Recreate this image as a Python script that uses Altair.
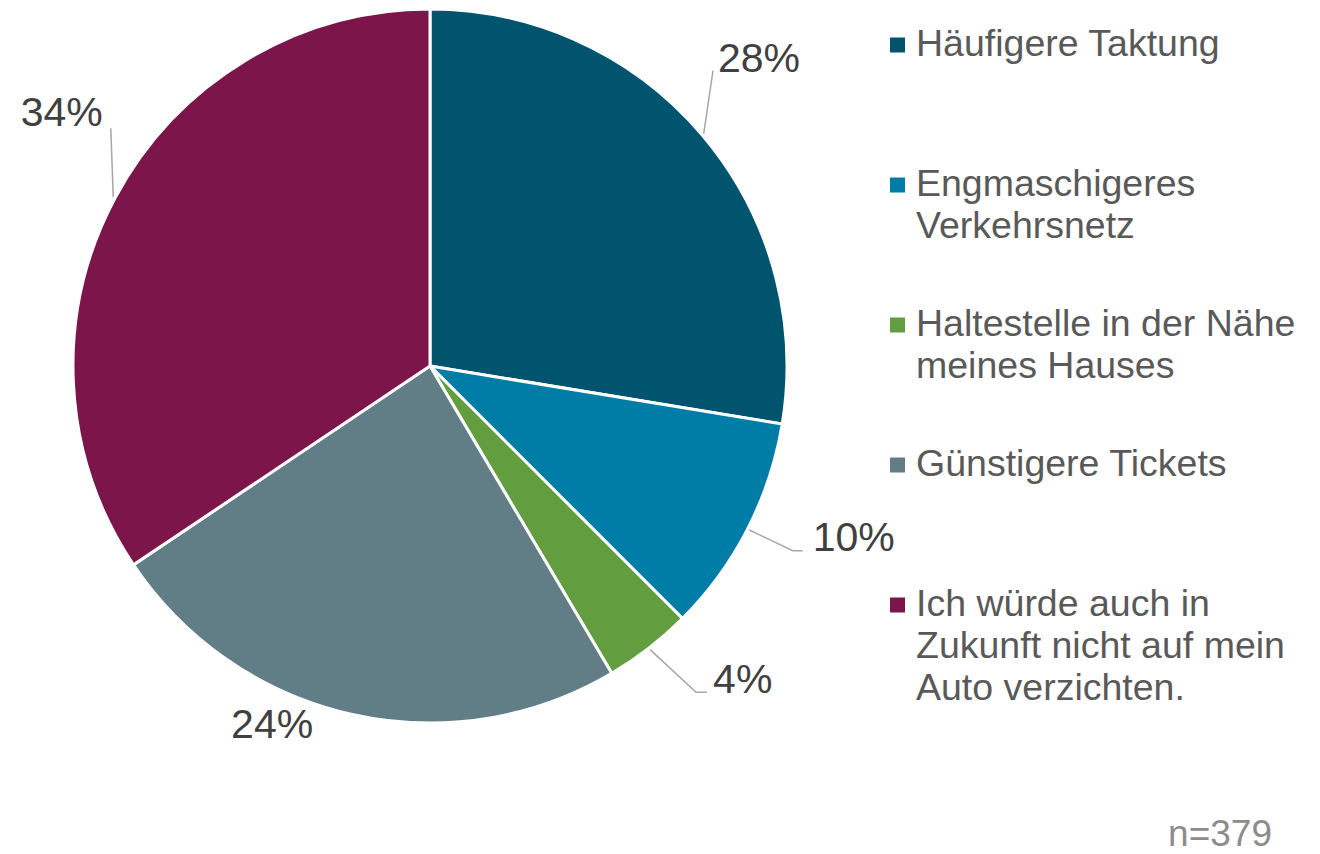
import math
import altair as alt
import pandas as pd

# ---- data ----
categories = [
    "Häufigere Taktung",
    "Engmaschigeres\nVerkehrsnetz",
    "Haltestelle in der Nähe\nmeines Hauses",
    "Günstigere Tickets",
    "Ich würde auch in\nZukunft nicht auf mein\nAuto verzichten.",
]
values = [27.6, 9.9, 4.0, 24.1, 34.4]   # shares in %
colors = ["#00546E", "#007DA7", "#629E3F", "#617E86", "#7B154A"]
note = "n=379"

# ---- layout / style ----
W, H = 1304, 846
CX, CY = 422, 358          # pie centre in view coordinates
R = 357                     # pie radius
FONT = "Liberation Sans"
# per-label leader style: angle nudge (deg), elbow radius, tail length, text dx, dy, align, line?
LABEL_STYLE = [
    dict(da=-5.9, re=409, tail=0, dx=5, dy=1, align="left", line=True),
    dict(da=-0.2, re=407, tail=10, dx=10, dy=0, align="left", line=True),
    dict(da=-1.4, re=421, tail=11, dx=6, dy=1, align="left", line=True),
    dict(da=11.1, re=390, tail=0, dx=0, dy=15, align="center", line=False),
    dict(da=8.6, re=398, tail=0, dx=-8, dy=-2, align="right", line=True),
]
LEG_X, LEG_Y0, LEG_STEP = 908, 48, 140


def polar(angle_deg, r):
    a = math.radians(angle_deg)
    return CX + r * math.sin(a), CY - r * math.cos(a)


total = sum(values)
pie_df = pd.DataFrame({
    "cat": categories,
    "value": values,
    "order": list(range(len(values))),
})

line_rows, text_rows = [], []
cum = 0
for i, v in enumerate(values):
    mid = (cum + v / 2) / total * 360
    cum += v
    st = LABEL_STYLE[i]
    sx, sy = polar(mid, R + 2)
    ex, ey = polar(mid + st["da"], st["re"])
    side = 1 if st["align"] == "left" else -1
    tx, ty = ex + side * st["tail"], ey
    if st["line"]:
        for k, (px, py) in enumerate([(sx, sy), (ex, ey), (tx, ty)]):
            line_rows.append({"id": i, "k": k, "x": px, "y": py})
    text_rows.append({
        "label": f"{int(math.floor(v + 0.5))}%",
        "x": tx + st["dx"],
        "y": ty + st["dy"],
        "align": st["align"],
    })
lines_df = pd.DataFrame(line_rows)
texts_df = pd.DataFrame(text_rows)

legend_df = pd.DataFrame({
    "cat": categories,
    "order": list(range(len(categories))),
    "tx": [LEG_X] * len(categories),
    "ty": [LEG_Y0 + LEG_STEP * i for i in range(len(categories))],
    "sx": [LEG_X - 18.5] * len(categories),
    "sy": [LEG_Y0 - 11 + LEG_STEP * i for i in range(len(categories))],
})
note_df = pd.DataFrame({"t": [note], "x": [1264], "y": [838]})

xs = alt.Scale(domain=[0, W], range=[0, W], nice=False, zero=False)
ys = alt.Scale(domain=[0, H], range=[0, H], nice=False, zero=False)
color_scale = alt.Scale(domain=categories, range=colors)

pie = alt.Chart(pie_df).mark_arc(
    outerRadius=R, stroke="white", strokeWidth=3
).encode(
    theta=alt.Theta("value:Q", stack=True),
    color=alt.Color("cat:N", scale=color_scale, legend=None),
    order=alt.Order("order:Q"),
    x=alt.value(CX),
    y=alt.value(CY),
)

leaders = alt.Chart(lines_df).mark_line(color="#A6A6A6", strokeWidth=1.5).encode(
    x=alt.X("x:Q", scale=xs, axis=None),
    y=alt.Y("y:Q", scale=ys, axis=None),
    detail="id:N",
    order="k:Q",
)

text_layers = []
for al in ["left", "right", "center"]:
    sub = texts_df[texts_df["align"] == al]
    if len(sub) == 0:
        continue
    text_layers.append(
        alt.Chart(sub).mark_text(
            align=al, baseline="alphabetic", font=FONT, fontSize=41, color="#404040"
        ).encode(
            x=alt.X("x:Q", scale=xs, axis=None),
            y=alt.Y("y:Q", scale=ys, axis=None),
            text="label:N",
        )
    )

leg_sq = alt.Chart(legend_df).mark_square(size=225, opacity=1, filled=True).encode(
    x=alt.X("sx:Q", scale=xs, axis=None),
    y=alt.Y("sy:Q", scale=ys, axis=None),
    color=alt.Color("cat:N", scale=color_scale, legend=None),
)
leg_txt = alt.Chart(legend_df).mark_text(
    align="left", baseline="alphabetic", font=FONT, fontSize=37.5,
    color="#595959", lineBreak="\n", lineHeight=42,
).encode(
    x=alt.X("tx:Q", scale=xs, axis=None),
    y=alt.Y("ty:Q", scale=ys, axis=None),
    text="cat:N",
)
note_txt = alt.Chart(note_df).mark_text(
    align="right", baseline="alphabetic", font=FONT, fontSize=37, color="#8C8C8C"
).encode(
    x=alt.X("x:Q", scale=xs, axis=None),
    y=alt.Y("y:Q", scale=ys, axis=None),
    text="t:N",
)

chart = alt.layer(pie, leaders, *text_layers, leg_sq, leg_txt, note_txt).properties(
    width=W, height=H, autosize=alt.AutoSizeParams(type="none"), padding=0
).configure_view(stroke=None)

chart.save("out.html", embed_options={"renderer": "svg", "actions": False})
